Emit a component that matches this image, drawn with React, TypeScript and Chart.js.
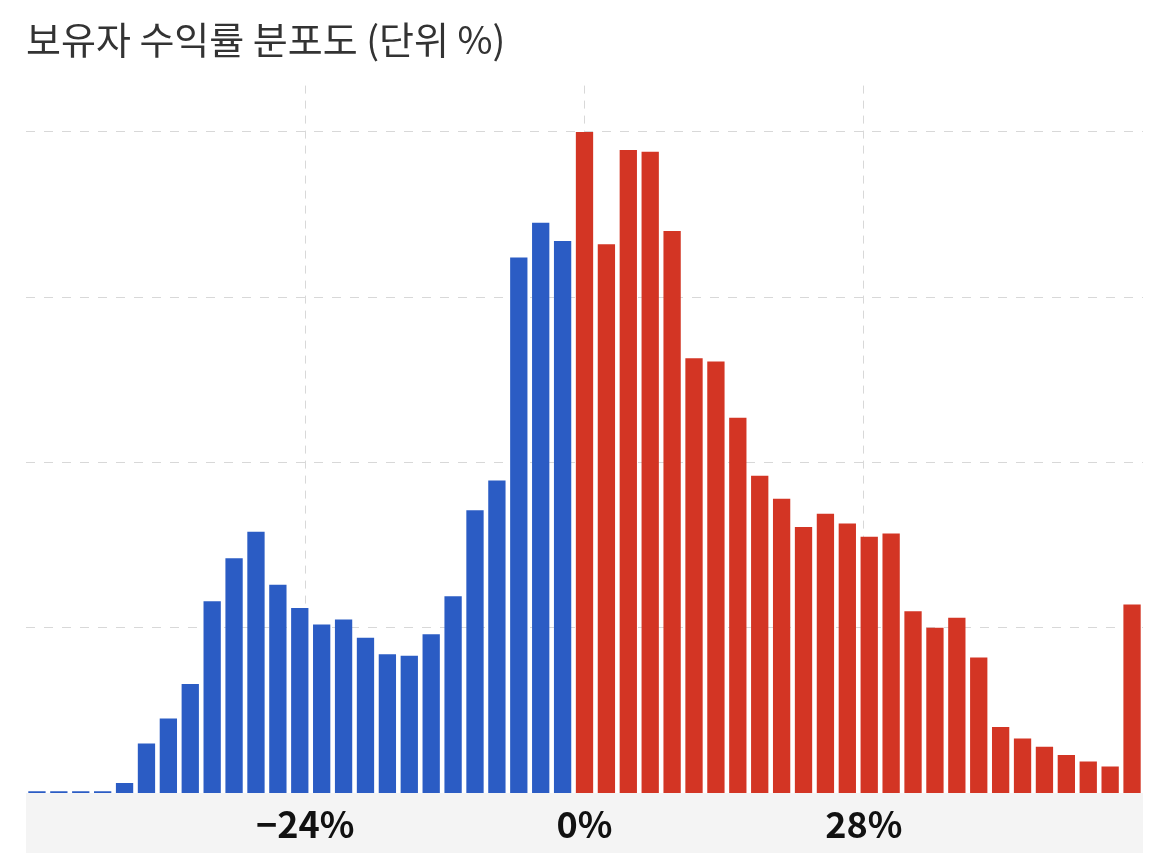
import { useEffect, useRef } from "react";
import { Chart, registerables } from "chart.js";

Chart.register(...registerables);

// 수익률 구간 (2% 단위, 마지막 구간은 50% 이상)
const returnBins = [
  -50, -48, -46, -44, -42, -40, -38, -36, -34, -32, -30, -28, -26, -24, -22, -20, -18,
  -16, -14, -12, -10, -8, -6, -4, -2, 0, 2, 4, 6, 8, 10, 12, 14, 16, 18, 20, 22, 24,
  26, 28, 30, 32, 34, 36, 38, 40, 42, 44, 46, 48, 50,
];

// 손실 구간 보유자 비중
const lossShares = [
  0.01, 0.01, 0.01, 0.01, 0.06, 0.3, 0.45, 0.66, 1.16, 1.42, 1.58, 1.26, 1.12, 1.02,
  1.05, 0.94, 0.84, 0.83, 0.96, 1.19, 1.71, 1.89, 3.24, 3.45, 3.34,
];

// 수익 구간 보유자 비중
const gainShares = [
  4.0, 3.32, 3.89, 3.88, 3.4, 2.63, 2.61, 2.27, 1.92, 1.78, 1.61, 1.69, 1.63, 1.55,
  1.57, 1.1, 1.0, 1.06, 0.82, 0.4, 0.33, 0.28, 0.23, 0.19, 0.16, 1.14,
];

const xTickLabels = ["\u221224%", "0%", "28%"];

const BLUE = "#2b5cc4";
const RED = "#d33524";
const GRID = "#d8d8d8";

const labelBand = {
  id: "labelBand",
  beforeDraw(chart: Chart) {
    const { ctx, chartArea, height } = chart;
    ctx.save();
    ctx.fillStyle = "#f4f4f4";
    ctx.fillRect(chartArea.left, chartArea.bottom, chartArea.right - chartArea.left, height - chartArea.bottom);
    ctx.restore();
  },
};

const ReturnDistChart = () => {
  const canvasRef = useRef<HTMLCanvasElement>(null);

  useEffect(() => {
    document.body.style.margin = "0";
    if (!canvasRef.current) return;
    const ctx = canvasRef.current.getContext("2d");
    if (!ctx) return;

    const values = [...lossShares, ...gainShares];
    const colors = returnBins.map((b) => (b < 0 ? BLUE : RED));

    const chart = new Chart(ctx, {
      type: "bar",
      data: {
        labels: returnBins.map((b) => `${b}%`),
        datasets: [
          {
            data: values,
            backgroundColor: colors,
            borderWidth: 0,
            categoryPercentage: 1,
            barPercentage: 0.79,
            xAxisID: "x",
          },
        ],
      },
      plugins: [labelBand],
      options: {
        animation: false,
        responsive: true,
        maintainAspectRatio: false,
        layout: {
          padding: { left: 26, right: 27, top: 0, bottom: 11 },
        },
        plugins: {
          legend: { display: false },
          tooltip: { enabled: false },
          title: {
            display: true,
            text: "보유자 수익률 분포도 (단위 %)",
            align: "start",
            color: "#333333",
            font: { family: "'Noto Sans CJK KR', sans-serif", size: 38, weight: "normal" },
            padding: { top: 17, bottom: 23 },
          },
        },
        scales: {
          x: {
            type: "category",
            display: false,
          },
          x2: {
            type: "linear",
            position: "bottom",
            min: 0,
            max: xTickLabels.length + 1,
            offset: false,
            afterBuildTicks: (axis) => {
              axis.ticks = xTickLabels.map((_, i) => ({ value: i + 1 }));
            },
            grid: {
              offset: false,
              drawTicks: true,
              tickLength: 13,
              tickColor: "rgba(0,0,0,0)",
              color: GRID,
              lineWidth: 1,
            } as any,
            border: { display: false, dash: [8, 7] },
            ticks: {
              autoSkip: false,
              maxRotation: 0,
              padding: 0,
              color: "#111111",
              font: {
                family: "'Noto Sans CJK KR', sans-serif",
                size: 36,
                weight: "bold",
                lineHeight: 1,
              },
              callback: (value) => xTickLabels[Number(value) - 1] ?? "",
            },
          },
          y: {
            min: 0,
            max: 4.28,
            ticks: { display: false, stepSize: 1 },
            afterBuildTicks: (axis) => {
              axis.ticks = axis.ticks.filter((t) => Number.isInteger(t.value) && t.value > 0);
            },
            grid: { drawTicks: false, color: GRID, lineWidth: 1 },
            border: { display: false, dash: [9, 9] },
          },
        },
      },
    });

    return () => chart.destroy();
  }, []);

  return (
    <div style={{ position: "relative", width: 1170, height: 853 }}>
      <canvas ref={canvasRef}></canvas>
    </div>
  );
};

export default function App() {
  return <ReturnDistChart />;
}
